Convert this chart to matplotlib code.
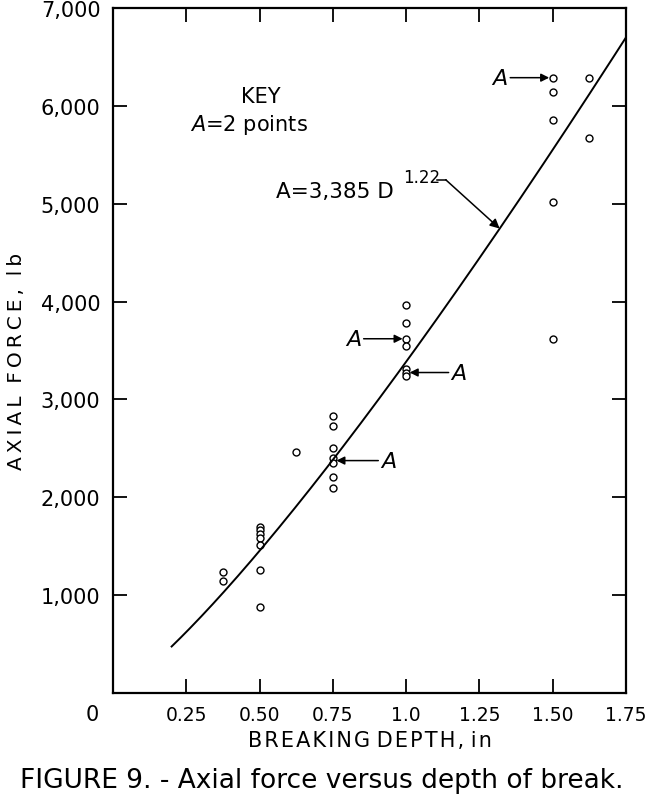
import matplotlib
matplotlib.use("Agg")
import matplotlib.pyplot as plt
import numpy as np

# ---- data ----
depth = [0.375, 0.375,
         0.5, 0.5, 0.5, 0.5, 0.5, 0.5, 0.5,
         0.625,
         0.75, 0.75, 0.75, 0.75, 0.75, 0.75, 0.75,
         1.0, 1.0, 1.0, 1.0, 1.0, 1.0, 1.0,
         1.5, 1.5, 1.5, 1.5, 1.5,
         1.625, 1.625]
force = [1240, 1140,
         1694, 1667, 1626, 1582, 1517, 1258, 876,
         2467,
         2835, 2733, 2505, 2400, 2352, 2206, 2096,
         3960, 3783, 3620, 3551, 3313, 3275, 3240,
         6288, 6142, 5859, 5017, 3613,
         6288, 5672]
fit_coef = 3385
fit_exp = 1.22
fit_range = [0.2, 1.75]
x_ticks = [0.25, 0.50, 0.75, 1.0, 1.25, 1.50, 1.75]
x_tick_labels = ["0.25", "0.50", "0.75", "1.0", "1.25", "1.50", "1.75"]
y_ticks = [1000, 2000, 3000, 4000, 5000, 6000, 7000]
y_tick_labels = ["1,000", "2,000", "3,000", "4,000", "5,000", "6,000", "7,000"]
# "A" annotations: (point x, point y, label x, label y)
a_marks = [(1.5, 6288, 1.32, 6288),
           (1.0, 3620, 0.82, 3620),
           (1.0, 3275, 1.18, 3275),
           (0.75, 2375, 0.94, 2375)]

FONT = "DejaVu Sans"
plt.rcParams["font.family"] = [FONT]
TS = "\u2009"  # thin space for letter spacing
HS = "\u200a"  # hair space

fig = plt.figure(figsize=(6.47, 8.03), dpi=100)
ax = fig.add_axes([113/647, 109/803, 513/647, 685/803])

ax.plot(depth, force, linestyle="none", marker="o", markersize=5,
        markerfacecolor="white", markeredgecolor="black", markeredgewidth=1.0)

d = np.linspace(fit_range[0], fit_range[1], 200)
ax.plot(d, fit_coef * d ** fit_exp, color="black", linewidth=1.4)

ax.set_xlim(0, 1.75)
ax.set_ylim(0, 7000)
ax.set_xticks(x_ticks)
ax.set_xticklabels(x_tick_labels)
ax.set_yticks(y_ticks)
ax.set_yticklabels(y_tick_labels)
ax.tick_params(direction="in", length=10, width=1.3, labelsize=15, pad=9,
               top=True, right=True)
ax.tick_params(axis="x", labelsize=13.5)
for s in ax.spines.values():
    s.set_linewidth(1.6)

ax.text(-0.027, -0.031, "0", transform=ax.transAxes, ha="right", va="center",
        fontsize=15)

ax.set_xlabel(HS.join("BREAKING") + " " + HS.join("DEPTH,") + " " + HS.join("in"),
              fontsize=15, labelpad=4)
fig.text(17/647, 1 - 361/803,
         TS.join("AXIAL") + "  " + TS.join("FORCE,") + "  " + TS.join("lb"),
         rotation=90, ha="center", va="center", fontsize=14.5)

fig.text(322/647, 1 - 781/803, "FIGURE 9. - Axial force versus depth of break.",
         ha="center", va="center", fontsize=19)

# key
ax.text(0.503, 6104, "KEY", ha="center", va="center", fontsize=15)
ax.text(0.465, 5818, "$\\mathit{A}$=2 points", ha="center", va="center", fontsize=15)

# fit equation
ax.text(0.555, 5125, "A=3,385 D", ha="left", va="center", fontsize=15.5)
ax.text(0.99, 5270, "1.22", ha="left", va="center", fontsize=12)
ax.plot([1.105, 1.135], [5245, 5245], color="black", linewidth=1.1)
ax.annotate("", xy=(1.319, 4746), xytext=(1.135, 5245),
            arrowprops=dict(arrowstyle="-|>", color="black", lw=1.1,
                            mutation_scale=14, shrinkA=0, shrinkB=0))

# "A" markers with arrows
for px, py, lx, ly in a_marks:
    left = lx < px
    ax.text(lx, ly, "A", ha="center", va="center", fontsize=16, style="italic")
    start = lx + (0.035 if left else -0.035)
    end = px + (-0.012 if left else 0.012)
    ax.annotate("", xy=(end, py), xytext=(start, ly),
                arrowprops=dict(arrowstyle="-|>", color="black", lw=1.1,
                                mutation_scale=12, shrinkA=0, shrinkB=0))

fig.savefig("out.png", dpi=100)
